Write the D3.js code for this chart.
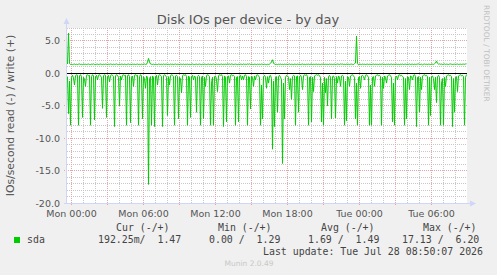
<!DOCTYPE html>
<html><head><meta charset="utf-8">
<script src="https://cdn.jsdelivr.net/npm/d3@7"></script>
<style>html,body{margin:0;padding:0;background:#f0f0f0;overflow:hidden}svg{display:block}</style>
</head><body><svg id="c" width="497" height="275"></svg>
<script>
// read IOs/s (drawn negative), one sample per 5 minutes
const readValues = [
0.5,6.2,1.2,8.0,0.6,0.3,0.7,1.8,0.4,0.2,
0.3,8.0,0.4,0.2,0.5,6.8,0.6,0.9,2.0,0.3,
0.2,0.4,0.3,8.0,0.5,0.2,0.4,7.2,0.5,0.3,
1.0,0.3,0.2,0.4,0.6,5.4,0.4,0.2,0.3,6.8,
0.5,0.3,1.3,0.4,0.2,0.3,0.5,8.2,0.4,0.2,
0.3,0.6,5.0,0.4,1.0,0.3,0.2,0.4,0.3,8.0,
0.4,0.2,0.5,7.6,0.6,0.4,2.0,0.3,0.2,0.4,
0.3,8.0,0.5,0.2,0.4,7.0,0.5,0.8,2.3,0.4,
0.6,17.13,0.8,0.5,8.0,0.4,0.6,8.2,0.5,0.3,
1.8,0.4,0.2,0.3,0.5,8.2,0.4,0.2,0.3,0.6,
6.5,0.5,1.8,0.4,0.2,0.3,0.5,8.0,0.4,0.3,
0.5,7.0,0.6,0.8,3.0,0.4,0.2,0.3,0.2,0.5,
8.0,0.4,0.6,6.8,0.5,0.3,1.0,0.4,0.6,6.0,
0.5,0.3,0.5,8.0,0.6,0.4,7.0,0.6,2.0,0.4,
0.2,0.3,0.5,8.0,1.5,0.6,8.0,0.5,0.4,0.9,
2.8,0.4,0.2,0.3,0.2,0.5,8.2,0.4,0.6,7.5,
0.5,0.4,1.5,0.3,0.2,0.4,0.3,0.5,8.0,0.6,
0.5,7.5,0.4,0.3,1.0,0.4,1.0,0.3,0.2,0.5,
8.0,0.5,0.6,5.5,0.4,0.6,2.0,0.4,1.0,0.3,
0.2,0.4,0.6,8.0,1.8,7.0,0.5,0.3,0.6,2.3,
0.5,1.5,0.4,0.3,0.8,11.7,1.2,8.2,0.6,0.5,
6.0,0.5,0.3,0.6,1.0,13.9,1.5,7.0,0.6,0.3,
0.4,0.6,2.5,0.8,4.0,0.5,0.3,0.4,8.0,0.5,
0.4,6.0,0.5,0.3,0.6,2.5,0.4,0.2,0.3,0.2,
0.5,8.0,0.6,0.5,7.5,0.6,2.8,0.4,0.3,0.2,
0.3,0.2,0.4,0.6,7.5,1.5,8.0,0.6,3.0,0.8,
5.0,0.5,0.3,0.6,7.0,0.5,0.4,0.8,6.9,0.5,
1.5,0.4,0.6,2.0,0.4,0.3,0.5,8.0,1.2,7.3,
0.5,0.6,2.0,0.4,0.3,0.2,0.4,0.6,7.0,1.5,
8.0,0.6,0.5,2.3,0.4,0.3,0.5,1.0,0.3,0.2,
0.4,0.6,8.0,1.8,8.0,0.6,0.5,2.0,0.4,0.3,
0.2,0.4,0.3,0.5,8.0,0.6,2.3,0.4,0.6,1.5,
0.4,0.3,0.2,0.4,0.6,7.5,1.5,8.0,0.6,0.4,
1.0,0.3,0.2,0.4,0.3,0.5,0.6,8.0,0.8,7.0,
0.5,0.6,2.5,0.4,0.5,1.0,0.3,0.2,0.5,8.2,
0.6,0.5,6.0,0.6,2.5,0.4,0.3,0.2,0.4,0.3,
0.5,8.0,0.6,6.5,0.5,0.4,0.8,2.5,0.6,4.5,
0.5,0.3,0.6,8.0,1.5,0.8,8.0,0.6,2.0,0.4,
0.3,0.2,0.4,0.3,0.5,8.2,0.8,6.0,0.6,0.5,
2.8,0.4,0.3,0.2,0.4,0.3,0.5,8.0,0.6,0.19
];
// write IOs/s (drawn positive)
const writeValues = [
1.45,6.20,1.50,1.38,1.42,1.35,1.40,1.44,1.37,1.41,
1.36,1.42,1.45,1.38,1.40,1.35,1.43,1.39,1.41,1.37,
1.40,1.44,1.38,1.36,1.42,1.40,1.46,1.38,1.35,1.40,
1.42,1.37,1.40,1.44,1.39,1.36,1.41,1.38,1.43,1.40,
1.37,1.41,1.39,1.44,1.40,1.36,1.42,1.38,1.40,1.45,
1.39,1.35,1.41,1.38,1.43,1.40,1.37,1.42,1.39,1.36,
1.41,1.44,1.38,1.40,1.36,1.42,1.39,1.41,1.37,1.40,
1.43,1.38,1.40,1.36,1.42,1.39,1.41,1.44,1.38,1.40,
1.70,2.30,1.75,1.45,1.40,1.38,1.42,1.36,1.41,1.39,
1.37,1.43,1.40,1.38,1.41,1.36,1.44,1.39,1.40,1.42,
1.38,1.40,1.36,1.43,1.39,1.41,1.37,1.40,1.44,1.38,
1.41,1.39,1.36,1.42,1.40,1.38,1.43,1.37,1.40,1.39,
1.42,1.38,1.40,1.36,1.41,1.44,1.39,1.37,1.40,1.42,
1.38,1.40,1.43,1.39,1.36,1.41,1.38,1.42,1.40,1.37,
1.40,1.43,1.38,1.41,1.37,1.40,1.44,1.39,1.36,1.42,
1.39,1.41,1.38,1.40,1.43,1.37,1.41,1.39,1.42,1.38,
1.46,1.40,1.44,1.38,1.45,1.41,1.37,1.40,1.43,1.39,
1.36,1.41,1.38,1.42,1.40,1.37,1.44,1.39,1.41,1.38,
1.45,1.40,1.46,1.38,1.42,1.39,1.37,1.41,1.40,1.36,
1.42,1.39,1.41,1.38,1.44,1.40,1.37,1.41,1.39,1.35,
1.40,1.38,1.42,1.55,1.75,2.10,1.60,1.42,1.38,1.40,
1.37,1.41,1.39,1.43,1.38,1.40,1.36,1.42,1.39,1.41,
1.38,1.40,1.44,1.37,1.41,1.39,1.36,1.42,1.40,1.38,
1.43,1.39,1.41,1.37,1.40,1.44,1.38,1.40,1.36,1.41,
1.39,1.42,1.38,1.40,1.43,1.37,1.41,1.39,1.40,1.42,
1.38,1.41,1.39,1.36,1.42,1.40,1.44,1.38,1.41,1.39,
1.40,1.37,1.43,1.39,1.41,1.38,1.40,1.42,1.36,1.40,
1.44,1.40,1.38,1.45,1.41,1.44,1.38,1.40,1.37,1.42,
1.39,1.41,1.38,1.40,1.43,1.39,1.37,1.50,1.60,5.75,
1.55,1.30,1.42,1.40,1.38,1.43,1.39,1.41,1.37,1.40,
1.42,1.38,1.41,1.39,1.36,1.40,1.43,1.38,1.41,1.39,
1.40,1.37,1.42,1.39,1.41,1.44,1.38,1.40,1.36,1.41,
1.39,1.42,1.38,1.40,1.43,1.37,1.41,1.39,1.40,1.42,
1.38,1.40,1.36,1.41,1.39,1.43,1.37,1.40,1.42,1.38,
1.41,1.39,1.44,1.38,1.40,1.42,1.37,1.41,1.39,1.40,
1.43,1.46,1.40,1.38,1.42,1.33,1.40,1.44,1.39,1.41,
1.38,1.42,1.40,1.37,1.44,1.41,1.39,1.48,1.60,1.90,
1.55,1.42,1.46,1.40,1.44,1.38,1.41,1.45,1.39,1.42,
1.40,1.37,1.43,1.45,1.41,1.38,1.40,1.42,1.39,1.41,
1.44,1.38,1.40,1.42,1.39,1.41,1.43,1.40,1.45,1.47
];
const xTickLabels = ["Mon 00:00","Mon 06:00","Mon 12:00","Mon 18:00","Tue 00:00","Tue 06:00"];
const yTickValues = [5, 0, -5, -10, -15, -20];
const yTickLabels = ["5.0","0.0","-5.0","-10.0","-15.0","-20.0"];
const legendHeaders = ["Cur (-/+)","Min (-/+)","Avg (-/+)","Max (-/+)"];
const legendValues = ["192.25m/  1.47","0.00 /  1.29","1.69 /  1.49","17.13 /  6.20"];
const seriesName = "sda";
const title = "Disk IOs per device - by day";
const yLabel = "IOs/second read (-) / write (+)";
const lastUpdate = "Last update: Tue Jul 28 08:50:07 2026";
const footer = "Munin 2.0.49";
const sideText = "RRDTOOL / TOBI OETIKER";

const STEP = 5 * 60 * 1000;
const monStart = new Date(2026, 6, 27, 0, 0, 0);
const t0 = new Date(monStart.getTime() - 4.5 * STEP);
const t1 = new Date(t0.getTime() + 400 * STEP);

const L = 67, R = 467, T = 28, B = 203;
const x = d3.scaleTime().domain([t0, t1]).range([L, R]);
const y = d3.scaleLinear().domain([-20, 7]).range([B, T]);
const py = v => Math.floor(y(v)) + 0.5;
const px = t => Math.floor(x(t)) + 0.5;

const svg = d3.select("#c");
svg.append("rect").attr("width", 497).attr("height", 275).attr("fill", "#f0f0f0");
svg.append("rect").attr("x", L).attr("y", T).attr("width", R - L).attr("height", B - T).attr("fill", "#ffffff");

const grid = svg.append("g");
// minor vertical (hourly)
d3.timeHour.every(1).range(t0, t1).forEach(t => {
  if (t.getHours() % 3 === 0) return;
  grid.append("line").attr("x1", px(t)).attr("x2", px(t)).attr("y1", T).attr("y2", B)
    .attr("stroke", "#c8c8c8").attr("stroke-dasharray", "1,1");
});
// minor horizontal
d3.range(-20, 8).forEach(v => {
  if (v % 5 === 0) return;
  grid.append("line").attr("x1", L).attr("x2", R).attr("y1", py(v)).attr("y2", py(v))
    .attr("stroke", "#c8c8c8").attr("stroke-dasharray", "1,1");
});
// major vertical (3h)
d3.timeHour.every(3).range(t0, t1).forEach(t => {
  grid.append("line").attr("x1", px(t)).attr("x2", px(t)).attr("y1", T).attr("y2", B + 3)
    .attr("stroke", "#e0a8a8").attr("stroke-dasharray", "1,1");
});
// major horizontal
yTickValues.forEach(v => {
  if (v === 0) return;
  grid.append("line").attr("x1", L - 3).attr("x2", R).attr("y1", py(v)).attr("y2", py(v))
    .attr("stroke", "#e0a8a8").attr("stroke-dasharray", "1,1");
});

// data lines
const line = d3.line().x((d, i) => x(new Date(t0.getTime() + i * STEP)) + 0.5).y(d => y(d));
svg.append("path").datum(readValues.map(v => -v)).attr("d", line)
  .attr("fill", "none").attr("stroke", "#00cc00").attr("stroke-width", 1);
svg.append("path").datum(writeValues).attr("d", line)
  .attr("fill", "none").attr("stroke", "#00cc00").attr("stroke-width", 1);

// zero line
svg.append("line").attr("x1", L).attr("x2", R).attr("y1", py(0)).attr("y2", py(0))
  .attr("stroke", "#000").attr("stroke-width", 1);

// axes
const axisC = "#cfd6f8";
svg.append("line").attr("x1", L - 0.5).attr("x2", L - 0.5).attr("y1", B + 0.5).attr("y2", T - 5).attr("stroke", axisC);
svg.append("path").attr("d", `M${L - 3.5},${T - 4} L${L - 0.5},${T - 10} L${L + 2.5},${T - 4} Z`).attr("fill", axisC);
svg.append("line").attr("x1", L - 3).attr("x2", R + 4).attr("y1", B + 0.5).attr("y2", B + 0.5).attr("stroke", axisC);
svg.append("path").attr("d", `M${R + 3},${B - 2.5} L${R + 9},${B + 0.5} L${R + 3},${B + 3.5} Z`).attr("fill", axisC);

const font = "'DejaVu Sans', sans-serif";
const mono = "'DejaVu Sans Mono', monospace";
const txtC = "#555";

// y tick labels
yTickValues.forEach((v, i) => {
  svg.append("text").attr("x", 60).attr("y", py(v) + 3).attr("text-anchor", "end")
    .attr("font-family", font).attr("font-size", "9.5px").attr("fill", txtC).text(yTickLabels[i]);
});
// x tick labels
xTickLabels.forEach((s, i) => {
  const t = d3.timeHour.offset(monStart, 6 * i);
  svg.append("text").attr("x", x(t)).attr("y", 217).attr("text-anchor", "middle")
    .attr("font-family", font).attr("font-size", "9.5px").attr("fill", txtC).text(s);
});

// title
svg.append("text").attr("x", 248).attr("y", 24).attr("text-anchor", "middle")
  .attr("font-family", font).attr("font-size", "13px").attr("fill", txtC).text(title);
// y label
svg.append("text").attr("transform", "translate(14,115.5) rotate(-90)").attr("text-anchor", "middle")
  .attr("font-family", font).attr("font-size", "10.8px").attr("fill", txtC).text(yLabel);
// side text
svg.append("text").attr("transform", "translate(484,5) rotate(90)").attr("text-anchor", "start")
  .attr("font-family", font).attr("font-size", "7.5px").attr("fill", "#c0c0c0").text(sideText);

// legend
const hdrX = [116, 218, 321, 423];
const valX = [98, 209, 308, 402];
legendHeaders.forEach((h, i) => {
  svg.append("text").attr("x", hdrX[i]).attr("y", 231).attr("font-family", mono).attr("font-size", "9.9px")
    .attr("fill", "#444").style("white-space", "pre").text(h);
});
legendValues.forEach((h, i) => {
  svg.append("text").attr("x", valX[i]).attr("y", 243).attr("font-family", mono).attr("font-size", "9.9px")
    .attr("fill", "#444").style("white-space", "pre").text(h);
});
svg.append("rect").attr("x", 14).attr("y", 237).attr("width", 6).attr("height", 6).attr("fill", "#00cc00");
svg.append("text").attr("x", 27).attr("y", 243).attr("font-family", mono).attr("font-size", "9.9px")
  .attr("fill", "#444").text(seriesName);
svg.append("text").attr("x", 483).attr("y", 255).attr("text-anchor", "end").attr("font-family", mono)
  .attr("font-size", "9.9px").attr("fill", "#444").text(lastUpdate);
svg.append("text").attr("x", 249).attr("y", 266).attr("text-anchor", "middle").attr("font-family", font)
  .attr("font-size", "7.5px").attr("fill", "#c8c8c8").text(footer);
</script></body></html>
